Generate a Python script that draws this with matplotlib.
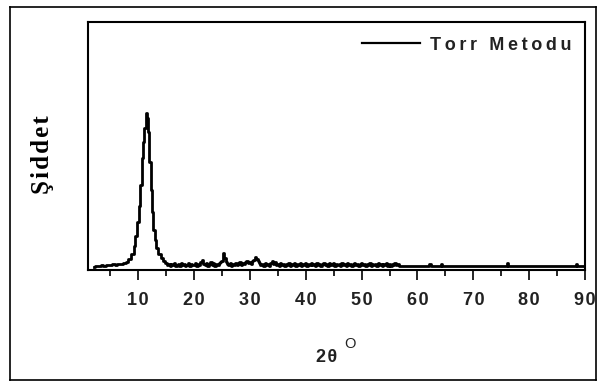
import numpy as np
import matplotlib
matplotlib.use("Agg")
import matplotlib.pyplot as plt
from matplotlib.lines import Line2D

# ---- data (intensity in arbitrary units) ----
pre_x = [2.0, 2.5, 3.0, 3.5, 4.0, 4.5, 5.0, 5.5, 6.0, 6.5, 7.0, 7.5, 8.0, 8.5]
pre_y = [3, 4, 4, 5, 4, 5, 5, 6, 5, 6, 6, 7, 8, 11]

peak_x = [9.0, 9.3, 9.6, 9.9, 10.2, 10.5, 10.8, 11.0, 11.2, 11.4, 11.55, 11.7,
          11.9, 12.1, 12.3, 12.5, 12.8, 13.1, 13.4, 13.8, 14.2, 14.6]
peak_y = [16, 24, 34, 48, 64, 85, 112, 128, 142, 155, 157, 152,
          138, 108, 80, 58, 40, 30, 22, 16, 12, 9]

noise_start = 15.0
noise_step = 0.25
noise_y = [7, 5, 6, 4, 6, 5, 7, 4, 5, 6, 4, 7, 5, 6, 4, 5, 7, 4, 6, 5,
           5, 7, 4, 6, 5, 8, 10, 6, 5, 7, 4, 6, 8, 5, 7, 4, 6, 5, 7, 8,
           9, 17, 12, 8, 6, 5, 7, 4, 6, 5, 7, 5, 6, 8, 5, 7, 6, 8, 9, 7,
           8, 6, 9, 10, 13, 11, 9, 7, 5, 6, 4, 7, 5, 6, 4, 7, 9, 6, 8, 5,
           6, 4, 7, 5, 6, 4, 6, 5, 7, 4, 6, 5, 7, 4, 6, 5, 7, 4, 6, 5,
           7, 4, 6, 5, 7, 5, 6, 4, 7, 5, 6, 4, 6, 7, 5, 6, 4, 7, 5, 6,
           7, 4, 6, 5, 6, 4, 7, 5, 6, 4, 7, 5, 6, 4, 6, 7, 5, 6, 4, 6,
           7, 5, 6, 4, 6, 5, 7, 4, 6, 5, 6, 4, 7, 5, 6, 4, 6, 5, 7, 4,
           6, 4, 6, 5, 7, 5, 6, 4, 4]

tail_x = [58.0, 60.0, 62.0, 62.2, 62.5, 64.1, 64.3, 64.6, 66.0, 68.0, 70.0,
          72.0, 74.0, 75.9, 76.1, 76.3, 78.0, 80.0, 82.0, 84.0, 86.0, 88.2,
          88.4, 88.6, 90.0]
tail_y = [4, 4, 4, 6, 4, 4, 6, 4, 4, 4, 4,
          4, 4, 4, 7, 4, 4, 4, 4, 4, 4, 4,
          6, 4, 4]

x_ticks = [10, 20, 30, 40, 50, 60, 70, 80, 90]
x_tick_labels = ["10", "20", "30", "40", "50", "60", "70", "80", "90"]
series_label = "Torr Metodu"
y_label = "Şiddet"
x_label = "2θ"

THIN = "\u2009"  # letter spacing of the original legend
HAIR = "\u200a"  # narrower letter spacing for other texts


def spaced(s, sp):
    return sp.join(s)


noise_x = [noise_start + i * noise_step for i in range(len(noise_y))]
two_theta = pre_x + peak_x + noise_x + tail_x
intensity = pre_y + peak_y + noise_y + tail_y

# ---- figure ----
W, H = 597, 381
fig = plt.figure(figsize=(W / 100, H / 100), dpi=100)
ax = fig.add_axes([88 / W, 1 - 270 / H, (585 - 88) / W, (270 - 22) / H])

ax.plot(two_theta, intensity, color="black", lw=2.0, drawstyle="steps-mid",
        label=spaced(series_label, THIN))
ax.set_xlim(1, 90)
ax.set_ylim(0, 248)
ax.set_yticks([])
ax.set_xticks(x_ticks)
ax.set_xticklabels([spaced(t, HAIR) for t in x_tick_labels])
ax.set_xticks([5, 15, 25, 35, 45, 55, 65, 75, 85], minor=True)
ax.tick_params(axis="x", which="major", direction="out", length=7, width=1.2,
               pad=9, labelsize=13, colors="black", labelcolor="#222222")
ax.tick_params(axis="x", which="minor", direction="out", length=4.5, width=1.2)
for lab in ax.get_xticklabels():
    lab.set_fontfamily(["Liberation Sans", "DejaVu Sans"])
    lab.set_fontweight("bold")
for s in ax.spines.values():
    s.set_linewidth(1.5)

leg = ax.legend(loc="center right", bbox_to_anchor=(571 / W, 1 - 45 / H),
                bbox_transform=fig.transFigure, frameon=False,
                handlelength=3.2, handletextpad=0.55, borderpad=0,
                borderaxespad=0,
                prop={"family": ["Liberation Sans", "DejaVu Sans"],
                      "weight": "bold", "size": 13})
for t in leg.get_texts():
    t.set_color("#222222")
for l in leg.get_lines():
    l.set_linewidth(1.6)

fig.text(42 / W, 1 - 155 / H, spaced(y_label, HAIR), rotation=90, ha="center",
         va="center", fontsize=18, fontweight="bold",
         family=["Liberation Serif", "DejaVu Serif"])
fig.text(327 / W, 1 - 357 / H, spaced(x_label, HAIR), ha="center", va="center",
         fontsize=13, fontweight="bold", family=["Liberation Sans", "DejaVu Sans"],
         color="#222222")
fig.text(350 / W, 1 - 344 / H, "O", ha="center", va="center",
         fontsize=10.5, family="Liberation Sans", color="#222222")

# outer frame
for (x0, y0, x1, y1) in [(10, 7, 596, 7), (10, 7, 10, 380), (10, 380, 596, 380),
                         (596, 7, 596, 380)]:
    fig.add_artist(Line2D([x0 / W, x1 / W], [1 - y0 / H, 1 - y1 / H],
                          transform=fig.transFigure, color="black", lw=1.2))

fig.savefig("out.png", dpi=100)
